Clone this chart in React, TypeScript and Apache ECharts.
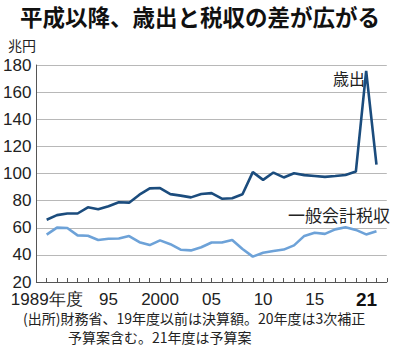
import React, { useEffect, useRef } from "react";
import * as echarts from "echarts";

const years = [1989,1990,1991,1992,1993,1994,1995,1996,1997,1998,1999,2000,2001,2002,2003,2004,2005,2006,2007,2008,2009,2010,2011,2012,2013,2014,2015,2016,2017,2018,2019,2020,2021];
const expenditure = [65.9,69.3,70.5,70.5,75.1,73.6,75.9,78.8,78.5,84.4,89.0,89.3,84.8,83.7,82.4,84.9,85.5,81.4,81.8,84.7,101.0,95.3,100.7,97.1,100.2,98.8,98.2,97.5,98.1,98.9,101.4,175.7,106.6];
const taxRevenue = [54.9,60.1,59.8,54.4,54.1,51.0,51.9,52.1,53.9,49.4,47.2,50.7,47.9,43.8,43.3,45.6,49.1,49.1,51.0,44.3,38.7,41.5,42.8,43.9,47.0,54.0,56.3,55.5,58.8,60.4,58.4,55.1,57.4];
const xTickLabels: Record<number, string> = { 1989: "1989年度", 1995: "95", 2000: "2000", 2005: "05", 2010: "10", 2015: "15", 2021: "{b|21}" };
const yTicks = [20, 40, 60, 80, 100, 120, 140, 160, 180];

const NUM_FONT = "'Liberation Sans Narrow', 'Liberation Sans', Arial, sans-serif";
const JP_FONT = "'Noto Sans CJK JP', sans-serif";

export default function App() {
  const ref = useRef<HTMLDivElement>(null);
  useEffect(() => {
    if (!ref.current) return;
    const chart = echarts.init(ref.current, undefined, { renderer: "svg" });
    chart.setOption({
      animation: false,
      backgroundColor: "#ffffff",
      grid: { left: 35, right: 6, top: 65, bottom: 67 },
      xAxis: {
        type: "value",
        min: 1988,
        max: 2022,
        interval: 1,
        splitLine: { show: false },
        axisLine: { show: true, lineStyle: { color: "#555", width: 1 } },
        axisTick: { show: true, inside: true, length: 4, lineStyle: { color: "#555" } },
        axisLabel: {
          margin: 9,
          fontSize: 17,
          lineHeight: 17,
          fontFamily: NUM_FONT,
          color: "#222",
          formatter: (v: number) => xTickLabels[v] ?? "",
          rich: {
            b: { fontSize: 19, lineHeight: 17, fontWeight: "bold", fontFamily: "'Liberation Sans', Arial, sans-serif", color: "#111", padding: [0, 20, 0, 0] },
          },
        },
      },
      yAxis: {
        type: "value",
        min: yTicks[0],
        max: yTicks[yTicks.length - 1],
        interval: 20,
        axisLine: { show: true, lineStyle: { color: "#555", width: 1 } },
        axisTick: { show: false },
        splitLine: { show: true, lineStyle: { color: "#b8b8b8", width: 1 } },
        axisLabel: { margin: 5, fontSize: 17, lineHeight: 16, fontFamily: NUM_FONT, color: "#222" },
      },
      series: [
        {
          type: "line",
          name: "歳出",
          data: years.map((y, i) => [y, expenditure[i]]),
          symbol: "none",
          lineStyle: { color: "#1b4c7d", width: 2.6 },
          z: 3,
        },
        {
          type: "line",
          name: "一般会計税収",
          data: years.map((y, i) => [y, taxRevenue[i]]),
          symbol: "none",
          lineStyle: { color: "#6da2d8", width: 2.6 },
          z: 2,
        },
      ],
      graphic: [
        { type: "text", left: 20, top: 5, style: { text: "平成以降、歳出と税収の差が広がる", font: `bold 22.5px ${JP_FONT}`, fill: "#111" } },
        { type: "text", left: 8, top: 38, style: { text: "兆円", font: `14px ${JP_FONT}`, fill: "#222" } },
        { type: "text", left: 333, top: 70, style: { text: "歳出", font: `16px ${JP_FONT}`, fill: "#222" } },
        { type: "text", left: 288, top: 206, style: { text: "一般会計税収", font: `17px ${JP_FONT}`, fill: "#222" } },
        { type: "text", left: 23, top: 309, style: { text: "(出所)財務省、19年度以前は決算額。20年度は3次補正", fontSize: 14, fontFamily: JP_FONT, lineHeight: 17, fill: "#222" } },
        { type: "text", left: 68, top: 328, style: { text: "予算案含む。21年度は予算案", fontSize: 14, fontFamily: JP_FONT, lineHeight: 17, fill: "#222" } },
      ],
    });
    return () => chart.dispose();
  }, []);
  return <div ref={ref} style={{ width: 400, height: 349, position: "absolute", left: 0, top: 0 }} />;
}
